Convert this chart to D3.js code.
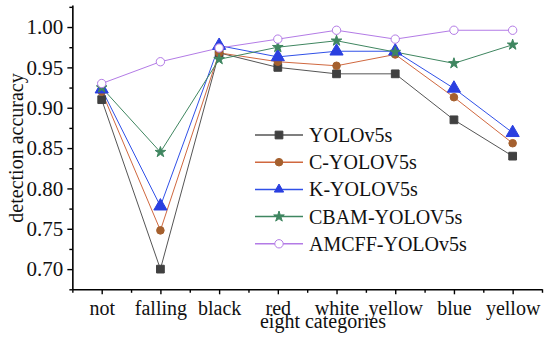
<!DOCTYPE html>
<html><head><meta charset="utf-8">
<script src="https://cdn.jsdelivr.net/npm/d3@7"></script>
<style>body{margin:0;background:#fff}svg{display:block}</style>
</head><body><svg id="c" width="550" height="337"></svg>
<script>
const categories = ["not","falling","black","red","white","yellow","blue","yellow"];
const seriesNames = ["YOLOv5s","C-YOLOV5s","K-YOLOV5s","CBAM-YOLOV5s","AMCFF-YOLOv5s"];
const yolo  = [0.910,0.700,0.968,0.950,0.942,0.942,0.885,0.840];
const cYolo = [0.920,0.748,0.968,0.957,0.952,0.966,0.913,0.856];
const kYolo = [0.923,0.778,0.977,0.963,0.970,0.970,0.924,0.869];
const cbam  = [0.925,0.845,0.960,0.975,0.983,0.969,0.955,0.978];
const amcff = [0.930,0.957,0.974,0.985,0.996,0.985,0.996,0.996];
const yTicks = [0.70,0.75,0.80,0.85,0.90,0.95,1.00];

const series = [
  {name:seriesNames[0], values:yolo,  line:"#555555", fill:"#404040", stroke:"#404040", sym:d3.symbolSquare, size:60},
  {name:seriesNames[1], values:cYolo, line:"#d0683f", fill:"#a5602e", stroke:"#a5602e", sym:d3.symbolCircle, size:45},
  {name:seriesNames[2], values:kYolo, line:"#3050e8", fill:"#2a3fe0", stroke:"#2a3fe0", sym:d3.symbolTriangle, size:75},
  {name:seriesNames[3], values:cbam,  line:"#3f8660", fill:"#3f8660", stroke:"#3f8660", sym:d3.symbolStar, size:35},
  {name:seriesNames[4], values:amcff, line:"#b37be6", fill:"#ffffff", stroke:"#b37be6", sym:d3.symbolCircle, size:55}
];

const svg = d3.select("#c");
const font = "'Liberation Serif','Times New Roman',serif";
const x = d3.scaleLinear().domain([0.5,8.5]).range([72.35,542]);
const y = d3.scaleLinear().domain([0.675,1.0273]).range([289.3,5]);

// axes
svg.append("g").attr("class","yax").attr("transform","translate(72.35,0)")
  .call(d3.axisLeft(y).tickValues(yTicks).tickFormat(d3.format(".2f")).tickSize(5).tickPadding(4).tickSizeOuter(0));
svg.append("g").attr("transform","translate(72.35,0)")
  .call(d3.axisLeft(y).tickValues(d3.range(0.675,1.03,0.05)).tickFormat("").tickSize(3).tickSizeOuter(0))
  .select(".domain").remove();
svg.append("g").attr("class","xax").attr("transform","translate(0,289.3)")
  .call(d3.axisBottom(x).tickValues(d3.range(1,9)).tickFormat((d,i)=>categories[i]).tickSize(5).tickPadding(7).tickSizeOuter(0));
svg.append("g").attr("transform","translate(0,289.3)")
  .call(d3.axisBottom(x).tickValues(d3.range(0.5,9,1)).tickFormat("").tickSize(3.5).tickSizeOuter(0))
  .select(".domain").remove();
svg.selectAll(".domain").attr("stroke","#000").attr("stroke-width",1.6);
svg.selectAll(".tick line").attr("stroke","#000").attr("stroke-width",1.4);
svg.selectAll(".tick text").attr("font-family",font).attr("fill","#111");
svg.selectAll(".yax .tick text").attr("font-size",21);
svg.selectAll(".xax .tick text").attr("font-size",20);

// titles
svg.append("text").attr("x",323).attr("y",327.5).attr("text-anchor","middle")
  .attr("font-family",font).attr("font-size",20).attr("fill","#111").text("eight categories");
svg.append("text").attr("transform","translate(23,148) rotate(-90)").attr("text-anchor","middle")
  .attr("font-family",font).attr("font-size",20).attr("fill","#111").text("detection accuracy");

// lines and markers
const line = d3.line().x((d,i)=>x(i+1)).y(d=>y(d));
series.forEach(s=>{
  svg.append("path").datum(s.values).attr("d",line).attr("fill","none")
    .attr("stroke",s.line).attr("stroke-width",1);
});
series.forEach(s=>{
  svg.append("g").selectAll("path").data(s.values).join("path")
    .attr("transform",(d,i)=>`translate(${x(i+1)},${y(d)})`)
    .attr("d",d3.symbol().type(s.sym).size(s.size))
    .attr("fill",s.fill).attr("stroke",s.stroke).attr("stroke-width",1);
});

// legend
const lg = svg.append("g");
series.forEach((s,i)=>{
  const ly = 135 + i*27.2;
  lg.append("line").attr("x1",255).attr("x2",303).attr("y1",ly).attr("y2",ly)
    .attr("stroke",s.line).attr("stroke-width",1.5);
  lg.append("path").attr("transform",`translate(279,${ly})`)
    .attr("d",d3.symbol().type(s.sym).size(s.size*(i===2?0.5:1)))
    .attr("fill",s.fill).attr("stroke",s.stroke).attr("stroke-width",1);
  lg.append("text").attr("x",309).attr("y",ly+7).attr("font-family",font)
    .attr("font-size",20).attr("fill","#111").text(s.name);
});
</script></body></html>
